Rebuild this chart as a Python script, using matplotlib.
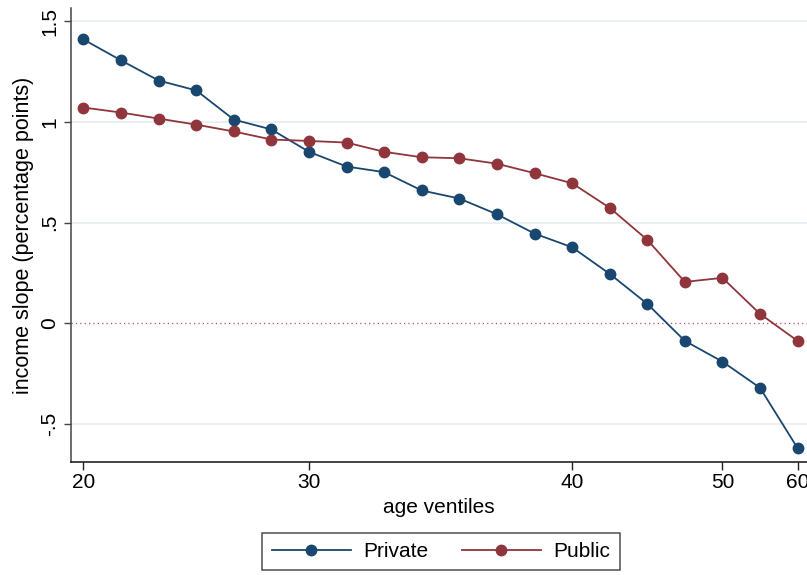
import numpy as np
import matplotlib.pyplot as plt

plt.rcParams['font.family'] = ['Liberation Sans', 'DejaVu Sans']

# income slope by age ventile (percentage points)
ventile = np.arange(20)
private = [1.41, 1.306, 1.206, 1.157, 1.012, 0.963, 0.852, 0.779, 0.751, 0.660,
           0.620, 0.542, 0.446, 0.378, 0.246, 0.097, -0.087, -0.19, -0.32, -0.62]
public = [1.072, 1.047, 1.017, 0.987, 0.953, 0.913, 0.906, 0.898, 0.852, 0.825,
          0.820, 0.793, 0.746, 0.696, 0.574, 0.415, 0.206, 0.226, 0.047, -0.087]

# ages shown on the x axis and the ventiles they fall in
age_ticks = [0, 6, 13, 17, 19]
age_labels = ['20', '30', '40', '50', '60']
y_ticks = [-0.5, 0, 0.5, 1, 1.5]
y_labels = ['-.5', '0', '.5', '1', '1.5']

BLUE = '#1a476f'
RED = '#90353b'
FS = 15

fig = plt.figure(figsize=(8.07, 5.75), dpi=100)
ax = fig.add_axes([0.0876, 0.196, 0.9124, 0.79])

for y in [-0.5, 0.5, 1, 1.5]:
    ax.axhline(y, color='#e6eef0', lw=1.2, zorder=0)
ax.axhline(0, color='#c8465e', lw=0.9, ls=(0, (1, 2.5)), zorder=1)

ax.plot(ventile, private, '-o', color=BLUE, lw=1.3, ms=7.5, label='Private', zorder=3)
ax.plot(ventile, public, '-o', color=RED, lw=1.3, ms=7.5, label='Public', zorder=3)

ax.set_xlim(-0.34, 19.25)
ax.set_ylim(-0.69, 1.566)
ax.set_xticks(age_ticks)
ax.set_xticklabels(age_labels, fontsize=FS)
ax.set_yticks(y_ticks)
ax.set_yticklabels(y_labels, fontsize=FS, rotation=90, va='center')
ax.tick_params(axis='x', length=6, width=1, color='#222222', pad=2)
ax.tick_params(axis='y', length=5, width=1, color='#444444', pad=3)

for side in ['top', 'right']:
    ax.spines[side].set_visible(False)
ax.spines['left'].set_color('#444444')
ax.spines['bottom'].set_color('#111111')
ax.spines['left'].set_linewidth(1.1)
ax.spines['bottom'].set_linewidth(1.1)

ax.set_xlabel('age ventiles', fontsize=FS, labelpad=4)
ax.set_ylabel('income slope (percentage points)', fontsize=15.5, labelpad=5)

leg = ax.legend(loc='upper center', bbox_to_anchor=(0.503, -0.155), ncol=2,
                fontsize=FS, frameon=True, fancybox=False, edgecolor='#222222',
                handlelength=3.8, columnspacing=1.6, handletextpad=0.6,
                borderpad=0.45, borderaxespad=0)
leg.get_frame().set_linewidth(1.1)

fig.savefig('out.png', dpi=100)
